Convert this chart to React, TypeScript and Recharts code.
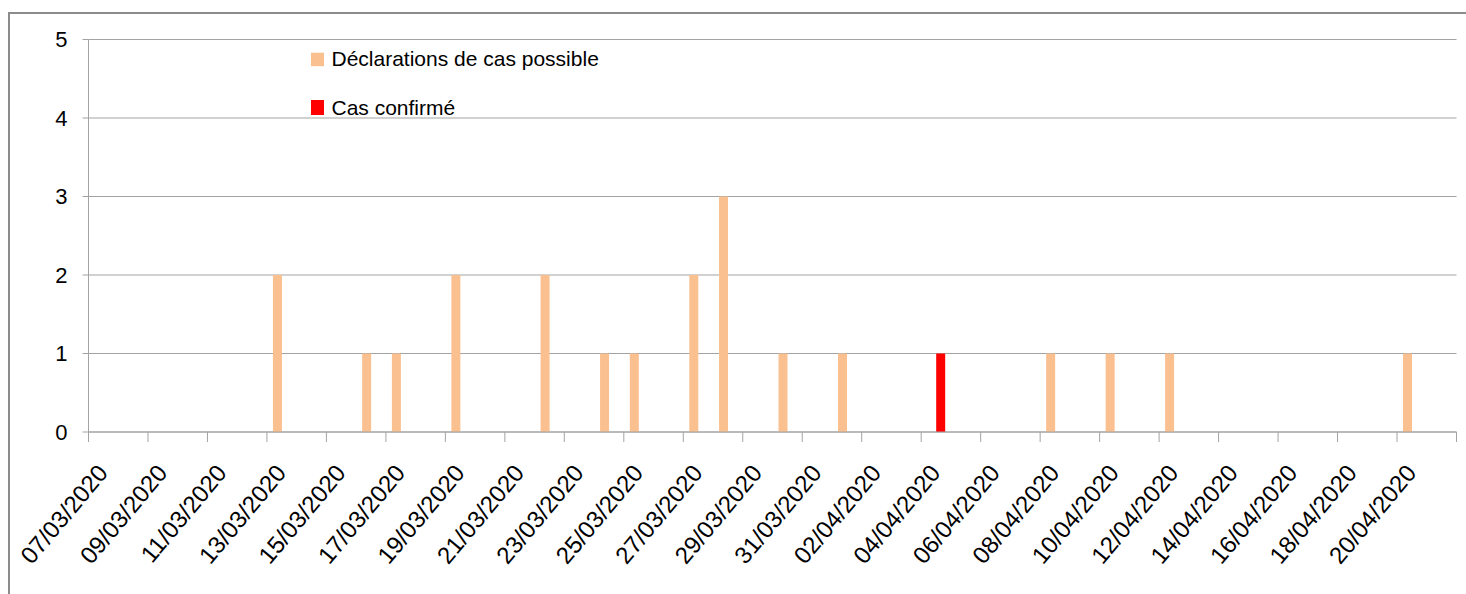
import React from 'react';
import { BarChart, Bar, XAxis, YAxis, CartesianGrid, Legend } from 'recharts';

const dates = [
  '07/03/2020', '08/03/2020', '09/03/2020', '10/03/2020', '11/03/2020', '12/03/2020',
  '13/03/2020', '14/03/2020', '15/03/2020', '16/03/2020', '17/03/2020', '18/03/2020',
  '19/03/2020', '20/03/2020', '21/03/2020', '22/03/2020', '23/03/2020', '24/03/2020',
  '25/03/2020', '26/03/2020', '27/03/2020', '28/03/2020', '29/03/2020', '30/03/2020',
  '31/03/2020', '01/04/2020', '02/04/2020', '03/04/2020', '04/04/2020', '05/04/2020',
  '06/04/2020', '07/04/2020', '08/04/2020', '09/04/2020', '10/04/2020', '11/04/2020',
  '12/04/2020', '13/04/2020', '14/04/2020', '15/04/2020', '16/04/2020', '17/04/2020',
  '18/04/2020', '19/04/2020', '20/04/2020', '21/04/2020',
];

const possibleCases = [
  0, 0, 0, 0, 0, 0, 2, 0, 0, 1, 1, 0, 2, 0, 0, 2, 0, 1, 1, 0, 2, 3, 0,
  1, 0, 1, 0, 0, 0, 0, 0, 0, 1, 0, 1, 0, 1, 0, 0, 0, 0, 0, 0, 0, 1, 0,
];

const confirmedCases = [
  0, 0, 0, 0, 0, 0, 0, 0, 0, 0, 0, 0, 0, 0, 0, 0, 0, 0, 0, 0, 0, 0, 0,
  0, 0, 0, 0, 0, 1, 0, 0, 0, 0, 0, 0, 0, 0, 0, 0, 0, 0, 0, 0, 0, 0, 0,
];

const yTicks = [0, 1, 2, 3, 4, 5];
const xTicks = [0, 2, 4, 6, 8, 10, 12, 14, 16, 18, 20, 22, 24, 26, 28, 30, 32, 34, 36, 38, 40, 42, 44, 46];

const SERIES_POSSIBLE = 'Déclarations de cas possible';
const SERIES_CONFIRMED = 'Cas confirmé';
const LEGEND_ORDER = [SERIES_POSSIBLE, SERIES_CONFIRMED];
const COLOR_POSSIBLE = '#FAC090';
const COLOR_CONFIRMED = '#FF0000';
const FONT = '"Liberation Sans", Arial, sans-serif';
const AXIS_GREY = '#a3a3a3';

const data = dates.map((date, i) => ({
  x: i + 0.5,
  date,
  possible: possibleCases[i],
  confirmed: confirmedCases[i],
}));

const DateTick = (props: any) => {
  const { x, y, payload } = props;
  const label = dates[payload.value] ?? '';
  return (
    <g transform={`translate(${x + 20.5},${y + 29.5})`}>
      <text
        x={0}
        y={0}
        transform="rotate(-50)"
        textAnchor="end"
        fontFamily={FONT}
        fontSize={24}
        fill="#000"
      >
        {label}
      </text>
    </g>
  );
};

const renderLegend = (props: any) => {
  const payload = props.payload || [];
  const rows = [
    { y: 12.7, h: 13.5, ty: 26 },
    { y: 60, h: 15, ty: 75 },
  ];
  const ordered = LEGEND_ORDER.map((name) => payload.find((p: any) => p.value === name)).filter(Boolean);
  return (
    <svg width={320} height={80} style={{ display: 'block', overflow: 'visible' }}>
      {ordered.map((entry: any, i: number) => (
        <g key={entry.value}>
          <rect x={11} y={rows[i].y} width={13} height={rows[i].h} fill={entry.color} />
          <text x={31.5} y={rows[i].ty} fontFamily={FONT} fontSize={21} fill="#000">
            {entry.value}
          </text>
        </g>
      ))}
    </svg>
  );
};

export default function App() {
  return (
    <div
      style={{
        position: 'absolute',
        left: 0,
        top: 0,
        width: 1466,
        height: 594,
        overflow: 'hidden',
        background: '#fff',
      }}
    >
      <div
        style={{
          position: 'absolute',
          left: 8,
          top: 12,
          width: 1600,
          height: 700,
          border: '2px solid #8c8c8c',
          boxSizing: 'border-box',
        }}
      />
      <div style={{ position: 'absolute', left: 0, top: 0 }}>
        <BarChart
          width={1466}
          height={594}
          data={data}
          margin={{ top: 39.5, right: 9.5, bottom: 0, left: 0 }}
          barGap={0}
          barSize={9}
        >
          <CartesianGrid vertical={false} stroke={AXIS_GREY} strokeWidth={1.2} />
          <XAxis
            type="number"
            dataKey="x"
            domain={[0, 46]}
            ticks={xTicks}
            interval={0}
            height={162}
            tickSize={10}
            stroke={AXIS_GREY}
            tick={(p: any) => <DateTick {...p} />}
          />
          <YAxis
            domain={[0, 5]}
            ticks={yTicks}
            interval={0}
            width={88.5}
            tickSize={6}
            tickMargin={15}
            stroke={AXIS_GREY}
            tick={{ fill: '#000', fontSize: 22, fontFamily: FONT }}
          />
          <Legend
            layout="vertical"
            align="center"
            verticalAlign="middle"
            wrapperStyle={{ left: 300, top: 40, width: 320, height: 80 }}
            content={renderLegend}
          />
          <Bar
            dataKey="possible"
            name={SERIES_POSSIBLE}
            fill={COLOR_POSSIBLE}
            isAnimationActive={false}
          />
          <Bar
            dataKey="confirmed"
            name={SERIES_CONFIRMED}
            fill={COLOR_CONFIRMED}
            isAnimationActive={false}
          />
        </BarChart>
      </div>
    </div>
  );
}
